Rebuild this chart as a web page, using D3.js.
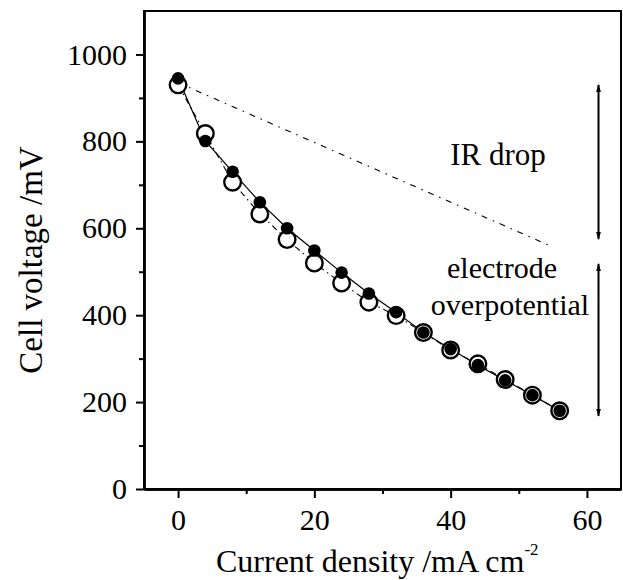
<!DOCTYPE html>
<html>
<head>
<meta charset="utf-8">
<script src="https://cdn.jsdelivr.net/npm/d3@7"></script>
<style>
  body { margin: 0; background: #fff; }
  svg { display: block; font-family: "Liberation Serif", "Times New Roman", serif; }
</style>
</head>
<body>
<div id="chart"></div>
<script>
// data
const currentDensity = [0, 4, 8, 12, 16, 20, 24, 28, 32, 36, 40, 44, 48, 52, 56];
const voltageFilled = [945, 801, 730, 660, 600, 549, 498, 450, 407, 360, 322, 285, 250, 216, 180];
const voltageOpen = [930, 818, 706, 633, 574, 520, 474, 430, 399, 360, 320, 288, 252, 216, 180];
const irLineX = [0, 55];
const irLineY = [935, 557];
const arrowX = 61.7;
const irDropRange = [930, 575];
const overpotRange = [518, 168];
const xMajorTicks = [0, 20, 40, 60];
const xMinorTicks = [10, 30, 50];
const yMajorTicks = [0, 200, 400, 600, 800, 1000];
const yMinorTicks = [100, 300, 500, 700, 900];

const width = 623;
const height = 580;
const margin = {top: 11, right: 2, bottom: 91, left: 144};

const svg = d3.select('#chart').append('svg').attr('width', width).attr('height', height);

const x = d3.scaleLinear().domain([-5, 65]).range([margin.left, width - margin.right]);
const y = d3.scaleLinear().domain([0, 1100]).range([height - margin.bottom, margin.top]);

// frame (top and right)
svg.append('rect')
  .attr('x', x(-5)).attr('y', y(1100))
  .attr('width', x(65) - x(-5)).attr('height', y(0) - y(1100))
  .attr('fill', 'none').attr('stroke', '#000').attr('stroke-width', 2);

// axes
function styleAxis(g) {
  g.selectAll('path').attr('stroke', '#000').attr('stroke-width', 2.4);
  g.selectAll('line').attr('stroke', '#000').attr('stroke-width', 2);
  g.selectAll('text').attr('fill', '#000').attr('font-size', '30px')
    .attr('font-family', '"Liberation Serif", "Times New Roman", serif');
}

svg.append('g').attr('transform', `translate(0,${y(0)})`)
  .call(d3.axisBottom(x).tickValues(xMinorTicks).tickFormat('').tickSize(5).tickSizeOuter(0))
  .call(styleAxis);
svg.append('g').attr('transform', `translate(0,${y(0)})`)
  .call(d3.axisBottom(x).tickValues(xMajorTicks).tickFormat(d3.format('d')).tickSize(9).tickSizeOuter(0).tickPadding(11))
  .call(styleAxis);

svg.append('g').attr('transform', `translate(${x(-5)},0)`)
  .call(d3.axisLeft(y).tickValues(yMinorTicks).tickFormat('').tickSize(5).tickSizeOuter(0))
  .call(styleAxis);
svg.append('g').attr('transform', `translate(${x(-5)},0)`)
  .call(d3.axisLeft(y).tickValues(yMajorTicks).tickFormat(d3.format('d')).tickSize(8).tickSizeOuter(0).tickPadding(9))
  .call(styleAxis);

// axis titles
svg.append('text')
  .attr('transform', `translate(42,${260}) rotate(-90)`)
  .attr('text-anchor', 'middle').attr('font-size', '33px')
  .text('Cell voltage /mV');

const xt = svg.append('text')
  .attr('x', 216).attr('y', 572)
  .attr('font-size', '32px');
xt.append('tspan').text('Current density /mA cm');
xt.append('tspan').attr('font-size', '17px').attr('dy', -17).text('-2');

// lines
const ptsFilled = currentDensity.map((d, i) => [d, voltageFilled[i]]);
const ptsOpen = currentDensity.map((d, i) => [d, voltageOpen[i]]);
const line = d3.line().x(d => x(d[0])).y(d => y(d[1]));

svg.append('path').datum(irLineX.map((d, i) => [d, irLineY[i]]))
  .attr('d', line).attr('fill', 'none').attr('stroke', '#000')
  .attr('stroke-width', 1.1).attr('stroke-dasharray', '6 6 1.5 6');

svg.append('path').datum(ptsOpen)
  .attr('d', line).attr('fill', 'none').attr('stroke', '#000')
  .attr('stroke-width', 1.1).attr('stroke-dasharray', '6 4 1.5 4');

svg.append('path').datum(ptsFilled)
  .attr('d', line).attr('fill', 'none').attr('stroke', '#000')
  .attr('stroke-width', 1.2);

// markers: open under filled
svg.append('g').selectAll('circle').data(ptsOpen).enter().append('circle')
  .attr('cx', d => x(d[0])).attr('cy', d => y(d[1])).attr('r', 8.3)
  .attr('fill', '#fff').attr('stroke', '#000').attr('stroke-width', 2.4);

svg.append('g').selectAll('circle').data(ptsFilled).enter().append('circle')
  .attr('cx', d => x(d[0])).attr('cy', d => y(d[1])).attr('r', 6.3)
  .attr('fill', '#000');

// double-headed arrows
const defs = svg.append('defs');
defs.append('marker').attr('id', 'head').attr('viewBox', '0 -4 10 8')
  .attr('refX', 9).attr('refY', 0).attr('markerWidth', 4).attr('markerHeight', 4)
  .attr('markerUnits', 'strokeWidth').attr('orient', 'auto-start-reverse')
  .append('path').attr('d', 'M0,-3L10,0L0,3Z').attr('fill', '#000');

[irDropRange, overpotRange].forEach(r => {
  svg.append('line')
    .attr('x1', x(arrowX)).attr('x2', x(arrowX))
    .attr('y1', y(r[0])).attr('y2', y(r[1]))
    .attr('stroke', '#000').attr('stroke-width', 2)
    .attr('marker-start', 'url(#head)').attr('marker-end', 'url(#head)');
});

// annotations
svg.append('text').attr('x', 498).attr('y', 165).attr('text-anchor', 'middle')
  .attr('font-size', '31px').text('IR drop');
svg.append('text').attr('x', 502).attr('y', 278).attr('text-anchor', 'middle')
  .attr('font-size', '30px').text('electrode');
svg.append('text').attr('x', 510).attr('y', 315).attr('text-anchor', 'middle')
  .attr('font-size', '30px').text('overpotential');
</script>
</body>
</html>
